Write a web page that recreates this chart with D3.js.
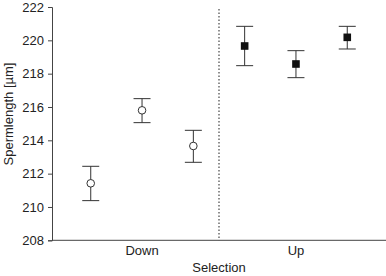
<!DOCTYPE html>
<html>
<head>
<meta charset="utf-8">
<script src="https://cdn.jsdelivr.net/npm/d3@7"></script>
<style>
  body { margin: 0; background: #fff; }
  text { font-family: "Liberation Sans", Arial, sans-serif; fill: #222; }
</style>
</head>
<body>
<script>
// Data
const groups = ["Down", "Down", "Down", "Up", "Up", "Up"];
const means = [211.42, 215.8, 213.66, 219.66, 218.58, 220.18];
const upper = [212.44, 216.5, 214.6, 220.84, 219.38, 220.84];
const lower = [210.38, 215.06, 212.68, 218.48, 217.76, 219.48];
const yTicks = [208, 210, 212, 214, 216, 218, 220, 222];

const width = 386, height = 276;
const plotLeft = 52, plotRight = 386, plotTop = 7, plotBottom = 240.3;

const svg = d3.select("body").append("svg")
    .attr("width", width)
    .attr("height", height);

// Scales
const x = d3.scalePoint()
    .domain(d3.range(means.length))
    .range([plotLeft, plotRight])
    .padding(0.755);
const y = d3.scaleLinear()
    .domain([208, 222])
    .range([plotBottom, plotTop]);

// Y axis
const yAxis = d3.axisLeft(y).tickValues(yTicks).tickSize(4).tickPadding(4);
const gy = svg.append("g")
    .attr("transform", `translate(${plotLeft},0)`)
    .call(yAxis);
gy.select(".domain").attr("stroke", "#444");
gy.selectAll(".tick line").attr("stroke", "#444");
gy.selectAll(".tick text").style("font-size", "13px").attr("fill", "#222");

// X axis line (no ticks)
svg.append("line")
    .attr("x1", plotLeft).attr("x2", plotRight)
    .attr("y1", plotBottom).attr("y2", plotBottom)
    .attr("stroke", "#444");

// Dotted separator between groups
const sepX = (x(2) + x(3)) / 2;
svg.append("line")
    .attr("x1", sepX).attr("x2", sepX)
    .attr("y1", 9).attr("y2", plotBottom)
    .attr("stroke", "#555")
    .attr("stroke-width", 1.3)
    .attr("stroke-dasharray", "1.5,2");

// Error bars
const capHalf = 8.5;
const bars = svg.append("g").selectAll("g")
    .data(means)
    .enter()
    .append("g");

bars.append("line")
    .attr("x1", (d, i) => x(i)).attr("x2", (d, i) => x(i))
    .attr("y1", (d, i) => y(upper[i])).attr("y2", (d, i) => y(lower[i]))
    .attr("stroke", "#333");
bars.append("line")
    .attr("x1", (d, i) => x(i) - capHalf).attr("x2", (d, i) => x(i) + capHalf)
    .attr("y1", (d, i) => y(upper[i])).attr("y2", (d, i) => y(upper[i]))
    .attr("stroke", "#333");
bars.append("line")
    .attr("x1", (d, i) => x(i) - capHalf).attr("x2", (d, i) => x(i) + capHalf)
    .attr("y1", (d, i) => y(lower[i])).attr("y2", (d, i) => y(lower[i]))
    .attr("stroke", "#333");

// Markers: open circles for Down, filled squares for Up
bars.each(function(d, i) {
    const g = d3.select(this);
    if (groups[i] === "Down") {
        g.append("circle")
            .attr("cx", x(i))
            .attr("cy", y(d))
            .attr("r", 3.8)
            .attr("fill", "#fff")
            .attr("stroke", "#333");
    } else {
        g.append("rect")
            .attr("x", x(i) - 3.8)
            .attr("y", y(d) - 3.8)
            .attr("width", 7.6)
            .attr("height", 7.6)
            .attr("fill", "#111");
    }
});

// Group labels
const groupNames = ["Down", "Up"];
svg.append("g").selectAll("text")
    .data(groupNames)
    .enter()
    .append("text")
    .attr("x", g => x(groups.indexOf(g) + 1))
    .attr("y", 255)
    .attr("text-anchor", "middle")
    .style("font-size", "13px")
    .text(g => g);

// Axis titles
svg.append("text")
    .attr("x", sepX)
    .attr("y", 272)
    .attr("text-anchor", "middle")
    .style("font-size", "13px")
    .text("Selection");

svg.append("text")
    .attr("transform", "translate(13,114) rotate(-90)")
    .attr("text-anchor", "middle")
    .style("font-size", "13px")
    .text("Spermlength [µm]");
</script>
</body>
</html>
